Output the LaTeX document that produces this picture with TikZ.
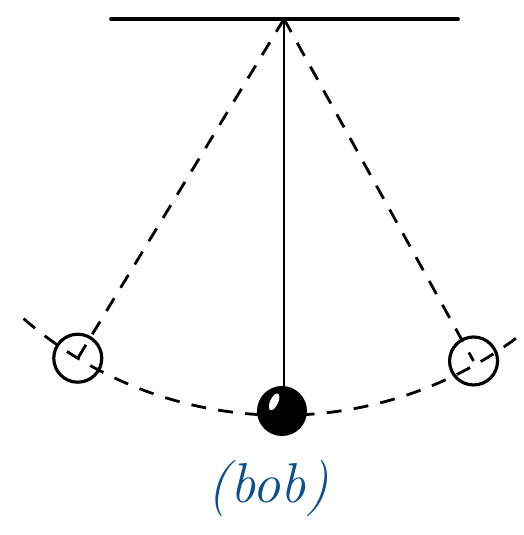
\documentclass[tikz,border=0pt]{standalone}
\usepackage{tikz}
\usepackage{xcolor}
\usetikzlibrary{positioning, calc}
\definecolor{inkblue}{HTML}{0D4E8E}

\begin{document}
\begin{tikzpicture}[
    x=0.02cm, y=-0.02cm,
    support/.style={line width=2.2pt, line cap=round},
    string/.style={line width=1.5pt},
    path/.style={line width=1.6pt, dash pattern=on 8.5pt off 7pt},
    ghost/.style={circle, draw, line width=1.8pt, minimum size=0.96cm, inner sep=0pt},
    bobball/.style={circle, fill=black, minimum size=1cm, inner sep=0pt},
    note/.style={text=inkblue, font=\fontsize{32}{32}\selectfont\itshape}
]
\useasboundingbox (0,0) rectangle (524,535);

% Support
\coordinate (pivot) at (284,19);
\coordinate (barL) at (111,19);
\coordinate (barR) at (458,19);

% Swing path
\draw[path] (pivot) ++(131:397) arc[start angle=131, end angle=47, radius=394];

% Extreme positions
\node[ghost] (left) at ($(pivot)+(121.3:397)$) {};
\node[ghost] (right) at ($(pivot)+(61:391)$) {};
\draw[path] (pivot) -- (left.center);
\draw[path] (pivot) -- (right.center);

% Bob at rest
\node[bobball] (bob) at (282,411) {};
\fill[white, rotate around={-25:($(bob.center)+(-11,-5)$)}] ($(bob.center)+(-11,-5)$) ellipse[x radius=4, y radius=9];
\draw[string] (pivot) -- (pivot |- bob.north);
\draw[support] (barL) -- (barR);

% Label
\node[note] (label) at (268,488) {(bob)};

\end{tikzpicture}
\end{document}
